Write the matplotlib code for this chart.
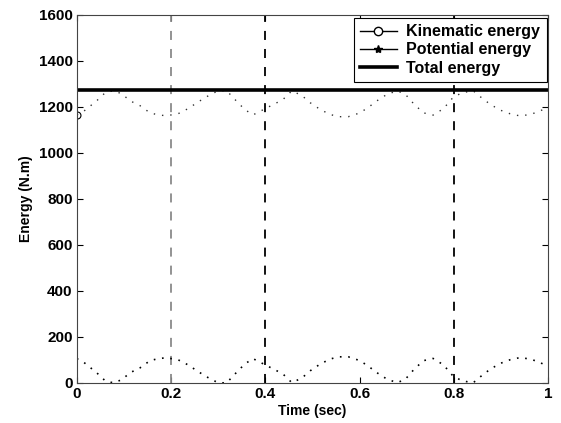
import matplotlib
matplotlib.use("Agg")
import matplotlib.pyplot as plt
from matplotlib.lines import Line2D

plt.rcParams['font.family'] = ['Liberation Sans', 'DejaVu Sans']
plt.rcParams['font.weight'] = 'bold'

# ---- data ----
time = [0.0, 0.013, 0.042, 0.06, 0.077, 0.095, 0.113, 0.134, 0.155, 0.172, 0.19,
        0.215, 0.236, 0.258, 0.279, 0.3, 0.318, 0.34, 0.357, 0.374, 0.395, 0.437,
        0.456, 0.477, 0.495, 0.516, 0.537, 0.555, 0.576, 0.597, 0.615, 0.636, 0.658,
        0.679, 0.696, 0.714, 0.735, 0.756, 0.778, 0.798, 0.817, 0.841, 0.856, 0.877,
        0.898, 0.919, 0.941, 0.962, 0.979, 1.0]
kinetic = [105, 92, 44, 9, 0, 13, 44, 65, 96, 105, 109, 100, 78, 48, 22, 0, 0, 48,
           83, 105, 83, 39, 1, 20, 52, 81, 103, 113, 113, 99, 78, 45, 16, 1, 13, 55,
           96, 106, 78, 30, 9, 0, 26, 59, 84, 100, 110, 103, 92, 71]
potential = [1165, 1178, 1226, 1261, 1270, 1257, 1226, 1205, 1174, 1165, 1161, 1170,
             1192, 1222, 1248, 1270, 1270, 1222, 1187, 1165, 1187, 1231, 1269, 1250,
             1218, 1189, 1167, 1157, 1157, 1171, 1192, 1225, 1254, 1269, 1257, 1215,
             1174, 1164, 1192, 1240, 1261, 1270, 1244, 1211, 1186, 1170, 1160, 1167,
             1178, 1199]
total_time = [0.0, 1.0]
total = [1272, 1272]
spike_times = [0.2, 0.4, 0.8]
spike_colors = ['#8a8a8a', 'black', 'black']

labels = ['Kinematic energy', 'Potential energy', 'Total energy']
xticks = [0, 0.2, 0.4, 0.6, 0.8, 1]
xticklabels = ['0', '0.2', '0.4', '0.6', '0.8', '1']
yticks = [0, 200, 400, 600, 800, 1000, 1200, 1400, 1600]

fig = plt.figure(figsize=(5.61, 4.23), dpi=100)
ax = fig.add_axes([0.137, 0.095, 0.840, 0.870])

for st, sc in zip(spike_times, spike_colors):
    ax.vlines(st, 0, 1600, colors=sc, linestyles=(0, (5, 5)), linewidth=1.3)

ax.plot(time, kinetic, color='black', linestyle=(0, (1, 4)), linewidth=1.2)
ax.plot(time, potential, color='#333333', linestyle=(0, (1, 5)), linewidth=1.0)
ax.plot(total_time, total, color='black', linewidth=2.6)
ax.plot(time[:1], potential[:1], marker='o', color='black', markersize=5,
        markerfacecolor='none', linestyle='none', markeredgewidth=0.8)

ax.set_xlim(0, 1)
ax.set_ylim(0, 1600)
ax.set_xticks(xticks)
ax.set_xticklabels(xticklabels)
ax.set_yticks(yticks)
ax.tick_params(direction='in', top=True, right=True, length=4, width=0.8,
               labelsize=11, pad=3)
for lab in ax.get_xticklabels() + ax.get_yticklabels():
    lab.set_fontweight('bold')
for sp in ax.spines.values():
    sp.set_linewidth(0.8)
    sp.set_color('#444444')

ax.set_xlabel('Time (sec)', fontsize=10, fontweight='bold', labelpad=2)
ax.set_ylabel('Energy (N.m)', fontsize=10, fontweight='bold', labelpad=4)

handles = [
    Line2D([], [], color='black', linewidth=1.0, marker='o', markersize=6,
           markerfacecolor='white', markeredgewidth=1.0),
    Line2D([], [], color='black', linewidth=1.0, marker='*', markersize=6),
    Line2D([], [], color='black', linewidth=2.6),
]
leg = ax.legend(handles, labels, loc='upper right', bbox_to_anchor=(0.997, 0.992),
                borderaxespad=0, fancybox=False, framealpha=1, edgecolor='black',
                prop={'size': 11.5, 'weight': 'bold'}, handlelength=2.3,
                labelspacing=0.2, borderpad=0.4, handletextpad=0.6)
leg.get_frame().set_linewidth(0.8)

fig.savefig('out.png', dpi=100)
